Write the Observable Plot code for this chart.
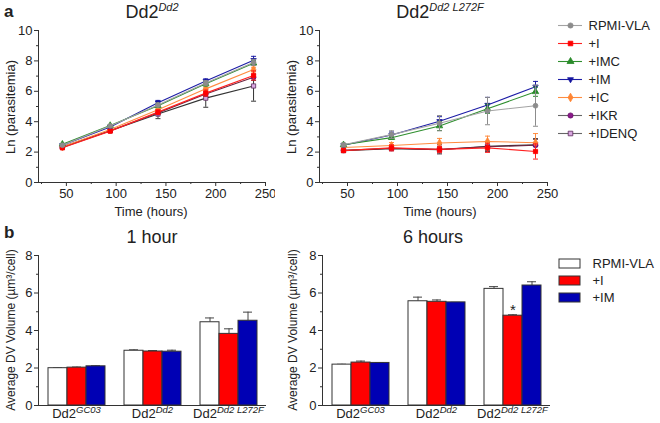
<!DOCTYPE html>
<html><head><meta charset="utf-8">
<script src="https://cdn.jsdelivr.net/npm/d3@7"></script>
<script src="https://cdn.jsdelivr.net/npm/@observablehq/plot@0.6"></script>
<style>
body{margin:0;background:#fff;font-family:"Liberation Sans",Arial,sans-serif;color:#222;}
#root{position:relative;width:660px;height:423px;overflow:hidden;background:#fff;}
.title{position:absolute;font-size:18px;transform:translateX(-50%);white-space:nowrap;line-height:20px;}
.title sup{font-size:11px;font-style:italic;vertical-align:7px;line-height:0;}
.tag{position:absolute;font-size:17px;font-weight:bold;line-height:20px;}
.ylab{position:absolute;white-space:nowrap;font-size:13px;line-height:14px;transform:translate(-50%,-50%) rotate(-90deg);}
.xlab{position:absolute;white-space:nowrap;font-size:13px;line-height:14px;transform:translate(-50%,-50%);}
</style></head>
<body><div id="root">
<div class="tag" style="left:4px;top:2px">a</div>
<div class="tag" style="left:4px;top:223px">b</div>
<div class="title" style="left:152px;top:2px">Dd2<sup>Dd2</sup></div>
<div class="title" style="left:440px;top:2px">Dd2<sup>Dd2 L272F</sup></div>
<div class="title" style="left:152px;top:227px">1 hour</div>
<div class="title" style="left:433px;top:227px">6 hours</div>
<div class="ylab" style="left:11px;top:107px">Ln (parasitemia)</div>
<div class="ylab" style="left:292px;top:107px">Ln (parasitemia)</div>
<div class="xlab" style="left:151px;top:212px">Time (hours)</div>
<div class="xlab" style="left:440px;top:212px">Time (hours)</div>
<div class="ylab" style="left:11px;top:330px;font-size:12px">Average DV Volume (µm³/cell)</div>
<div class="ylab" style="left:293px;top:330px;font-size:12px">Average DV Volume (µm³/cell)</div>
</div>
<script>
// ---------- data: panel a (growth) ----------
const hours = [46, 94, 142, 190, 238];
const treatments = ["RPMI-VLA", "+I", "+IMC", "+IM", "+IC", "+IKR", "+IDENQ"];
const dd2Mean = [
  [2.45, 3.72, 5.10, 6.55, 7.90],
  [2.28, 3.38, 4.63, 5.88, 7.04],
  [2.52, 3.75, 5.05, 6.49, 7.85],
  [2.45, 3.65, 5.25, 6.67, 8.05],
  [2.35, 3.48, 4.78, 6.16, 7.43],
  [2.30, 3.40, 4.58, 5.82, 6.92],
  [2.35, 3.40, 4.50, 5.55, 6.35]];
const dd2Err = [
  [0.08, 0.08, 0.12, 0.15, 0.20],
  [0.05, 0.08, 0.15, 0.20, 0.30],
  [0.05, 0.05, 0.10, 0.15, 0.15],
  [0.08, 0.08, 0.15, 0.15, 0.25],
  [0.05, 0.05, 0.10, 0.10, 0.15],
  [0.05, 0.05, 0.10, 0.15, 0.20],
  [0.08, 0.10, 0.30, 0.60, 1.00]];
const mutMean = [
  [2.48, 3.15, 3.90, 4.70, 5.05],
  [2.10, 2.28, 2.18, 2.28, 2.04],
  [2.48, 2.95, 3.72, 4.85, 5.97],
  [2.45, 3.12, 4.03, 5.10, 6.30],
  [2.30, 2.43, 2.60, 2.70, 2.62],
  [2.12, 2.25, 2.18, 2.35, 2.45],
  [2.10, 2.22, 2.15, 2.38, 2.48]];
const mutErr = [
  [0.10, 0.25, 0.50, 0.90, 1.35],
  [0.10, 0.20, 0.20, 0.30, 0.50],
  [0.10, 0.10, 0.30, 0.30, 0.30],
  [0.10, 0.20, 0.30, 0.50, 0.35],
  [0.10, 0.20, 0.30, 0.35, 0.60],
  [0.10, 0.10, 0.30, 0.30, 0.40],
  [0.10, 0.10, 0.20, 0.30, 0.40]];
const timeTicks = [50, 100, 150, 200, 250];
const timeMinor = [25, 75, 125, 175, 225];
const lnTicks = [0, 2, 4, 6, 8, 10];
const lnMinor = [1, 3, 5, 7, 9];

// ---------- data: panel b (DV volume) ----------
const strains = ["Dd2^GC03", "Dd2^Dd2", "Dd2^Dd2 L272F"];
const dvTreatments = ["RPMI-VLA", "+I", "+IM"];
const hour1Mean = [[1.99, 2.02, 2.09], [2.92, 2.88, 2.87], [4.44, 3.82, 4.52]];
const hour1Err  = [[0.02, 0.03, 0.03], [0.05, 0.05, 0.08], [0.23, 0.27, 0.46]];
const hour6Mean = [[2.18, 2.29, 2.27], [5.56, 5.53, 5.50], [6.22, 4.79, 6.40]];
const hour6Err  = [[0.02, 0.08, 0.02], [0.22, 0.10, 0.00], [0.12, 0.05, 0.20]];
const hour6Sig  = [[false, false, false], [false, false, false], [false, true, false]];
const dvTicks = [0, 2, 4, 6, 8];
const dvMinor = [1, 3, 5, 7];

// ---------- styles ----------
const lineColors   = ["#a3a3a3", "#ff2020", "#2f8f2f", "#1c1ca6", "#ff8c40", "#6e2440", "#333333"];
const legendLines  = ["#a3a3a3", "#ff2020", "#2f8f2f", "#1c1ca6", "#ff8c40", "#666666", "#666666"];
const markerFill   = ["#8c8c8c", "#ff0000", "#2a8a2a", "#14149e", "#ff8533", "#8b1a8b", "#d7a6df"];
const markerStroke = ["#8c8c8c", "#ff0000", "#2a8a2a", "#14149e", "#ff8533", "#6a106a", "#5a2a5a"];
const errColors    = ["#8c8c8c", "#ff2020", "#2f8f2f", "#1c1ca6", "#ff8c40", "#5a2a3a", "#333333"];
const barColors = ["#ffffff", "#ff0000", "#0000b4"];

const capSymbol = {draw(ctx, size) { const r = Math.sqrt(size / Math.PI); ctx.moveTo(-r, 0); ctx.lineTo(r, 0); }};
const triDown = {draw(ctx, size) { const r = Math.sqrt(size / Math.PI) * 1.25; ctx.moveTo(0, r); ctx.lineTo(r * 0.9, -r * 0.55); ctx.lineTo(-r * 0.9, -r * 0.55); ctx.closePath(); }};
const symbols = ["circle", "square", "triangle", triDown, "diamond", "circle", "square"];

const fontStyle = {fontFamily: "'Liberation Sans', Arial, sans-serif", fontSize: "13px", color: "#222", background: "transparent"};

function place(node, left, top) {
  node.style.position = "absolute";
  node.style.left = left + "px";
  node.style.top = top + "px";
  document.getElementById("root").appendChild(node);
}

function lineChart(means, errs, opts) {
  const marks = [
    Plot.ruleX([22], {stroke: "#333"}),
    Plot.ruleY([0], {stroke: "#333"}),
    Plot.axisX({ticks: timeTicks, tickSize: 4, tickPadding: 2, label: null, stroke: "#333"}),
    Plot.axisX({ticks: timeMinor, tickSize: 2, tickFormat: () => "", label: null, stroke: "#333"}),
    Plot.axisY({ticks: lnTicks, tickSize: 4, tickPadding: 2, label: null, stroke: "#333"}),
    Plot.axisY({ticks: lnMinor, tickSize: 2, tickFormat: () => "", label: null, stroke: "#333"})
  ];
  for (let i = treatments.length - 1; i >= 0; i--) {
    const rows = hours.map((t, j) => ({t, v: means[i][j], e: errs[i][j]}));
    marks.push(
      Plot.ruleX(rows, {x: "t", y1: d => d.v - d.e, y2: d => d.v + d.e, stroke: errColors[i], strokeWidth: 1}),
      Plot.dot(rows, {x: "t", y: d => d.v + d.e, symbol: capSymbol, r: 2.5, fill: "none", stroke: errColors[i], strokeWidth: 1}),
      Plot.dot(rows, {x: "t", y: d => d.v - d.e, symbol: capSymbol, r: 2.5, fill: "none", stroke: errColors[i], strokeWidth: 1}),
      Plot.line(rows, {x: "t", y: "v", stroke: lineColors[i], strokeWidth: 1.1}),
      Plot.dot(rows, {x: "t", y: "v", symbol: symbols[i], r: 2.4, fill: markerFill[i], stroke: markerStroke[i], strokeWidth: 0.8})
    );
  }
  return Plot.plot({
    width: opts.width, height: 205,
    marginLeft: opts.ml, marginRight: opts.mr, marginTop: 30, marginBottom: 23,
    style: fontStyle,
    x: {domain: [22, 250]},
    y: {domain: [0, 10]},
    marks
  });
}

function supTicks(svg) {
  svg.querySelectorAll("text").forEach(t => {
    const s = t.textContent;
    if (!s.includes("^")) return;
    const [base, sup] = s.split("^");
    t.textContent = "";
    const ns = "http://www.w3.org/2000/svg";
    const a = document.createElementNS(ns, "tspan"); a.textContent = base;
    const b = document.createElementNS(ns, "tspan"); b.textContent = sup;
    b.setAttribute("dy", "-5"); b.setAttribute("font-size", "9.5"); b.setAttribute("font-style", "italic");
    t.appendChild(a); t.appendChild(b);
  });
}

function barChart(means, errs, sig, opts) {
  const rows = [];
  strains.forEach((g, gi) => dvTreatments.forEach((t, ti) => rows.push({g, t, v: means[gi][ti], e: errs[gi][ti], s: sig ? sig[gi][ti] : false})));
  const svg = Plot.plot({
    width: opts.width, height: 183,
    marginLeft: opts.ml, marginRight: opts.mr, marginTop: 15, marginBottom: 18,
    style: fontStyle,
    fx: {domain: strains, padding: 0, axis: "bottom", tickSize: 0, tickPadding: 3, label: null},
    x: {domain: dvTreatments, paddingInner: 0, paddingOuter: 0.5, axis: null},
    y: {domain: [0, 8]},
    color: {domain: dvTreatments, range: barColors},
    marks: [
      Plot.axisY({ticks: dvTicks, tickSize: 4, tickPadding: 2, label: null, stroke: "#333"}),
      Plot.axisY({ticks: dvMinor, tickSize: 2, tickFormat: () => "", label: null, stroke: "#333"}),
      Plot.ruleX(rows, {fx: "g", x: "t", y1: "v", y2: d => d.v + d.e, stroke: "#444"}),
      Plot.tickY(rows, {fx: "g", x: "t", y: d => d.v + d.e, stroke: "#444", insetLeft: 5, insetRight: 5}),
      Plot.barY(rows, {fx: "g", x: "t", y: "v", fill: "t", stroke: "#333", strokeWidth: 1}),
      Plot.text(rows.filter(d => d.s), {fx: "g", x: "t", y: d => d.v + d.e, text: () => "*", dy: -5, fontSize: 15, fill: "#222"}),
      Plot.ruleY([0], {stroke: "#333"}),
      Plot.frame({anchor: "left", facetAnchor: "left", stroke: "#333"})
    ]
  });
  supTicks(svg);
  return svg;
}

function lineLegend() {
  const marks = [];
  treatments.forEach((name, i) => {
    marks.push(
      Plot.ruleY([name], {y: d => d, x1: 0, x2: 1, stroke: legendLines[i], strokeWidth: 1.1}),
      Plot.dot([name], {x: 0.5, y: d => d, symbol: symbols[i], r: 2.6, fill: markerFill[i], stroke: markerStroke[i], strokeWidth: 0.8})
    );
  });
  marks.push(Plot.text(treatments, {x: 1, y: d => d, text: d => d, textAnchor: "start", dx: 6, fontSize: 13, fill: "#222"}));
  return Plot.plot({
    width: 107, height: 160, margin: 0,
    style: fontStyle,
    x: {domain: [0, 1], range: [5, 29], axis: null},
    y: {type: "point", domain: treatments, range: [15, 143], axis: null},
    marks
  });
}

function barLegend() {
  return Plot.plot({
    width: 115, height: 80, margin: 0,
    style: fontStyle,
    x: {domain: [0, 1], range: [14, 35], axis: null},
    y: {type: "band", domain: dvTreatments, range: [10, 70], padding: 0.5, axis: null},
    color: {domain: dvTreatments, range: barColors},
    marks: [
      Plot.barX(dvTreatments, {y: d => d, x1: 0, x2: 1, fill: d => d, stroke: "#333"}),
      Plot.text(dvTreatments, {x: 1, y: d => d, text: d => d, textAnchor: "start", dx: 12, fontSize: 13, fill: "#222"})
    ]
  });
}

place(lineChart(dd2Mean, dd2Err, {width: 275, ml: 38, mr: 10}), 0, 0);
place(lineChart(mutMean, mutErr, {width: 280, ml: 39, mr: 13}), 280, 0);
place(lineLegend(), 553, 0);
place(barChart(hour1Mean, hour1Err, null, {width: 280, ml: 38, mr: 14}), 0, 240);
place(barChart(hour6Mean, hour6Err, hour6Sig, {width: 280, ml: 42, mr: 10}), 280, 240);
place(barLegend(), 545, 240);
</script>
</body></html>
